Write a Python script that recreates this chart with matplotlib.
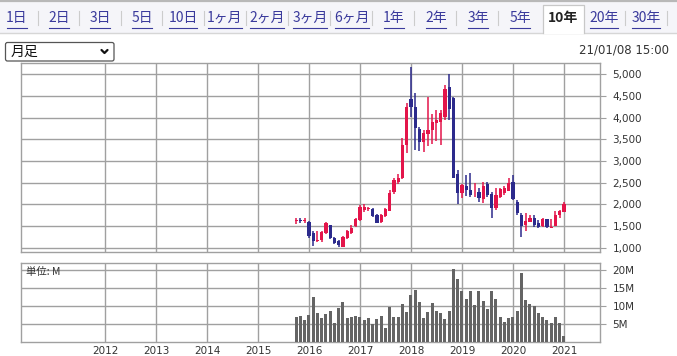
import matplotlib
matplotlib.use("Agg")
import matplotlib.pyplot as plt
from matplotlib.patches import Rectangle, FancyBboxPatch
import numpy as np

W, H = 677, 356
DPI = 100

# ---------------- data ----------------
start_year = 2015.75  # first monthly candle (Oct 2015)
opens  = [1620, 1640, 1625, 1606, 1350, 1170, 1184, 1337, 1529, 1237, 1168, 1030, 1223, 1337, 1506, 1644,
          1874, 1890, 1897, 1766, 1590, 1743, 1858, 2280, 2525, 2602, 3369, 4420, 4250, 3730, 3445, 3622,
          3714, 3880, 3905, 4020, 4700, 4450, 2700, 2260, 2430, 2330, 2230, 2280, 2120, 2470, 2240, 1910,
          2180, 2258, 2318, 2510, 2065, 1759, 1530, 1605, 1683, 1582, 1506, 1660, 1470, 1506, 1759, 1836]
highs  = [1700, 1700, 1690, 1620, 1400, 1380, 1400, 1590, 1540, 1260, 1180, 1280, 1420, 1520, 1700, 1990,
          2020, 1950, 1920, 1780, 1790, 1930, 2330, 2620, 2700, 3523, 4330, 5156, 4560, 3780, 3720, 4480,
          4070, 4170, 4180, 4750, 5000, 4480, 2790, 2480, 2680, 2720, 2490, 2390, 2520, 2520, 2290, 2380,
          2380, 2420, 2600, 2680, 2100, 1800, 1800, 1760, 1760, 1640, 1700, 1660, 1660, 1850, 1870, 2065]
lows   = [1560, 1570, 1580, 1240, 1046, 1140, 1130, 1320, 1200, 1100, 1016, 1016, 1200, 1320, 1480, 1630,
          1830, 1860, 1720, 1570, 1575, 1720, 1850, 2230, 2470, 2590, 3178, 4020, 3250, 3230, 3210, 3346,
          3400, 3450, 3370, 3950, 3940, 2600, 2010, 2140, 2200, 2180, 2180, 2060, 2030, 2180, 1700, 1870,
          2140, 2210, 2300, 2100, 1760, 1246, 1380, 1590, 1480, 1450, 1480, 1470, 1470, 1500, 1700, 1820]
closes = [1635, 1625, 1640, 1285, 1168, 1190, 1375, 1568, 1223, 1122, 1069, 1260, 1391, 1452, 1660, 1950,
          1935, 1905, 1743, 1583, 1770, 1897, 2272, 2564, 2602, 3369, 4250, 4250, 3760, 3445, 3640, 3714,
          3905, 3940, 4100, 4650, 4190, 2620, 2260, 2450, 2330, 2220, 2250, 2140, 2430, 2220, 1910, 2220,
          2350, 2372, 2503, 2120, 1798, 1506, 1630, 1683, 1530, 1490, 1660, 1490, 1490, 1759, 1851, 2012]
volumes_m = [7.0, 7.3, 6.2, 7.6, 12.5, 8.1, 6.7, 7.8, 8.7, 5.3, 9.5, 11.2, 6.7, 7.0, 7.3, 7.0,
             6.2, 6.7, 5.1, 6.5, 7.3, 4.0, 9.8, 7.0, 7.0, 10.6, 8.4, 13.1, 14.5, 11.2, 6.7, 8.4,
             10.9, 8.7, 8.1, 6.5, 8.7, 20.3, 17.5, 14.2, 12.0, 14.2, 10.3, 14.2, 11.4, 9.2, 14.2, 12.0,
             7.0, 5.6, 6.7, 7.0, 8.7, 19.2, 11.7, 10.6, 10.0, 8.1, 7.0, 6.2, 5.3, 7.0, 5.3, 1.8]
# red = up (close >= open), blue = down
price_ticks = [1000, 1500, 2000, 2500, 3000, 3500, 4000, 4500, 5000]
vol_ticks = [5, 10, 15, 20]
vol_tick_labels = ["5M", "10M", "15M", "20M"]
years = [2012, 2013, 2014, 2015, 2016, 2017, 2018, 2019, 2020, 2021]
tabs = ["1日", "2日", "3日", "5日", "10日", "1ヶ月", "2ヶ月", "3ヶ月", "6ヶ月", "1年", "2年", "3年", "5年", "10年", "20年", "30年"]
selected_tab = "10年"
dropdown_label = "月足"
timestamp = "21/01/08 15:00"
unit_label = "単位: M"

# ---------------- style ----------------
RED = "#e3154a"
BLUE = "#2c2a8c"
VOLC = "#646464"
GRID = "#a0a0a0"
TXT = "#333333"
LINK = "#3a3a9c"
JP = ["Noto Sans CJK JP", "DejaVu Sans"]

fig = plt.figure(figsize=(W / DPI, H / DPI), dpi=DPI)
fig.patch.set_facecolor("white")


def fr(x0, y0, x1, y1):
    return [x0 / W, 1 - y1 / H, (x1 - x0) / W, (y1 - y0) / H]


# overlay for page chrome
ov = fig.add_axes([0, 0, 1, 1], zorder=3)
ov.set_xlim(0, W)
ov.set_ylim(H, 0)
ov.axis("off")
ov.patch.set_alpha(0)

ov.add_patch(Rectangle((0, 0), W, 32.5, facecolor="#f5f5f9", edgecolor="none"))
ov.plot([0, W], [0.8, 0.8], color="#b8b8b8", lw=1.6)
ov.plot([0, W], [32.5, 32.5], color="#d6d6d6", lw=1.0)

tab_centers = [17, 59, 100, 142, 183, 225, 267, 310, 352, 394, 436, 478, 520, 563, 604, 646]
seps = [38, 79, 121, 162, 204, 246, 288, 330, 372, 414, 456, 498, 625, 667]
for s in seps:
    ov.plot([s, s], [11, 25], color="#cccccc", lw=0.8)
# selected tab box
ov.add_patch(Rectangle((543, 5), 41, 28.5, facecolor="white", edgecolor="none", zorder=2))
ov.plot([543, 543, 584, 584], [33, 5, 5, 33], color="#c8c8c8", lw=0.9, zorder=3)

tab_texts = []
for t, cx in zip(tabs, tab_centers):
    if t == selected_tab:
        ov.text(cx, 18, t, ha="center", va="center", fontsize=10, fontweight="bold",
                color="#222222", family=JP, zorder=4)
    else:
        tt = ov.text(cx, 18, t, ha="center", va="center", fontsize=10, color=LINK, family=JP, zorder=4)
        tab_texts.append(tt)

# dropdown
ov.add_patch(FancyBboxPatch((5.5, 42.5), 108.5, 18.5, boxstyle="round,pad=0,rounding_size=2",
                            facecolor="white", edgecolor="#555555", lw=0.9))
ov.text(11, 52, dropdown_label, ha="left", va="center", fontsize=10, color="#111111", family=JP)
ov.plot([101.5, 104.5, 107.5], [50, 53, 50], color="#111111", lw=1.6, solid_capstyle="round")

ov.text(669, 50, timestamp, ha="right", va="center", fontsize=8.5, color=TXT, family=["DejaVu Sans"])

# ---------------- price panel ----------------
xmin, xmax = 2010.353, 2021.706
x = np.array([start_year + i / 12 for i in range(len(opens))])
o = np.array(opens, float); c = np.array(closes, float)
hh = np.array(highs, float); ll = np.array(lows, float)
up = c >= o
cols = np.where(up, RED, BLUE)

ax = fig.add_axes(fr(21, 63, 600, 252), zorder=2)
ax.set_xlim(xmin, xmax)
ax.set_ylim(908, 5253)
ax.vlines(x, ll, hh, colors=cols, lw=1.1, zorder=3)
bw = 3.3 / 51
bottoms = np.minimum(o, c)
heights = np.maximum(np.abs(c - o), 22)
ax.bar(x, heights, bottom=bottoms, width=bw, color=cols, linewidth=0, zorder=4)

ax.set_xticks(years)
ax.set_xticklabels([])
ax.set_yticks(price_ticks)
ax.set_yticklabels([f"{v:,}" for v in price_ticks])
ax.yaxis.tick_right()
ax.grid(True, color=GRID, lw=1.0)
ax.set_axisbelow(True)
ax.tick_params(axis="x", length=0)
ax.tick_params(axis="y", length=4, width=0.8, color=GRID, labelsize=7.5, labelcolor=TXT, pad=5)
for sp in ax.spines.values():
    sp.set_color(GRID)
    sp.set_linewidth(1.0)

# ---------------- volume panel ----------------
av = fig.add_axes(fr(21, 263, 600, 342), zorder=2)
av.set_xlim(xmin, xmax)
av.set_ylim(0, 21.94)
av.bar(x, volumes_m, width=3.0 / 51, color=VOLC, linewidth=0, zorder=3)
av.set_xticks(years)
av.set_xticklabels([str(y) for y in years])
av.set_yticks(vol_ticks)
av.set_yticklabels(vol_tick_labels)
av.yaxis.tick_right()
av.grid(True, color=GRID, lw=1.0)
av.set_axisbelow(True)
av.tick_params(axis="x", length=0, labelsize=7.5, labelcolor=TXT, pad=3)
av.tick_params(axis="y", length=4, width=0.8, color=GRID, labelsize=7.5, labelcolor=TXT, pad=5)
for sp in av.spines.values():
    sp.set_color(GRID)
    sp.set_linewidth(1.0)
ov.text(26, 271.5, unit_label, ha="left", va="center", fontsize=7.5, color=TXT, family=JP, zorder=5)

# underline links
fig.canvas.draw()
r = fig.canvas.get_renderer()
for tt in tab_texts:
    bb = tt.get_window_extent(r)
    ov.plot([bb.x0 + 0.5, bb.x1 - 0.5], [27.5, 27.5], color=LINK, lw=0.8, zorder=4)

fig.savefig("out.png", dpi=DPI, facecolor="white")
